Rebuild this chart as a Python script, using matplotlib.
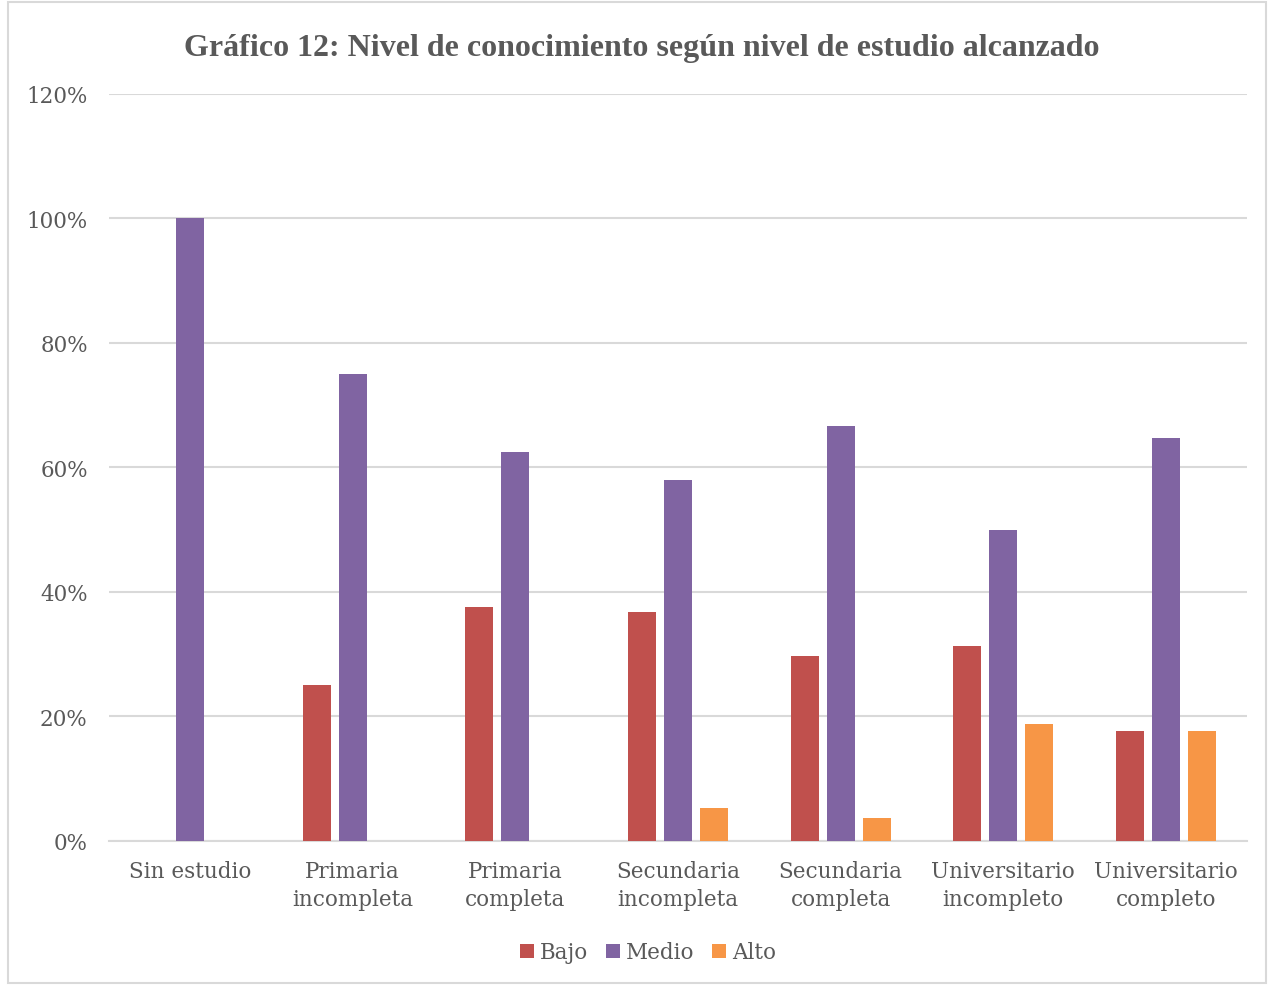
import matplotlib
matplotlib.use("Agg")
import matplotlib.pyplot as plt
import numpy as np

categories = ["Sin estudio", "Primaria\nincompleta", "Primaria\ncompleta",
              "Secundaria\nincompleta", "Secundaria\ncompleta",
              "Universitario\nincompleto", "Universitario\ncompleto"]
bajo = [0.0, 25.0, 37.5, 36.84, 29.63, 31.25, 17.65]
medio = [100.0, 75.0, 62.5, 57.89, 66.67, 50.0, 64.71]
alto = [0.0, 0.0, 0.0, 5.26, 3.70, 18.75, 17.65]
yticks = [0, 20, 40, 60, 80, 100, 120]

colors = {"Bajo": "#C0504D", "Medio": "#8064A2", "Alto": "#F79646"}
text_color = "#595959"

fig = plt.figure(figsize=(12.78, 9.87), dpi=100)
ax = fig.add_axes([0.085, 0.147, 0.891, 0.757])

x = np.arange(len(categories))
w = 0.172
off = 0.222
for vals, name, dx in [(bajo, "Bajo", -off), (medio, "Medio", 0), (alto, "Alto", off)]:
    ax.bar(x + dx, vals, width=w, color=colors[name], label=name, zorder=3)

ax.set_xlim(-0.5, len(categories) - 0.5)
ax.set_ylim(0, 120)
ax.set_yticks(yticks)
ax.set_yticklabels([f"{v}%" for v in yticks])
ax.set_xticks(x)
ax.set_xticklabels(categories)
ax.grid(axis="y", color="#D9D9D9", linewidth=1.5, zorder=0)
for s in ["top", "right", "left"]:
    ax.spines[s].set_visible(False)
ax.spines["bottom"].set_color("#D9D9D9")
ax.spines["bottom"].set_linewidth(1.5)
ax.tick_params(axis="both", length=0, colors=text_color, labelsize=15.5)
ax.tick_params(axis="x", pad=14)
ax.tick_params(axis="y", pad=15)
for lab in ax.get_xticklabels() + ax.get_yticklabels():
    lab.set_fontfamily("DejaVu Serif")
    lab.set_linespacing(1.35)

fig.suptitle("Gráfico 12: Nivel de conocimiento según nivel de estudio alcanzado",
             x=0.502, y=0.966, fontsize=23, fontweight="bold",
             fontfamily="Liberation Serif", color=text_color)

leg = fig.legend(loc="center", bbox_to_anchor=(0.507, 0.034), ncol=3, frameon=False,
                 prop={"family": "DejaVu Serif", "size": 15.5},
                 handlelength=0.65, handleheight=0.65, handletextpad=0.3, columnspacing=0.8)
for t in leg.get_texts():
    t.set_color(text_color)

# chart border
fig.patches.append(plt.Rectangle((0.006, 0.003), 0.985, 0.994, transform=fig.transFigure,
                                 fill=False, edgecolor="#D9D9D9", linewidth=1.5))

fig.savefig("out.png", dpi=100)
